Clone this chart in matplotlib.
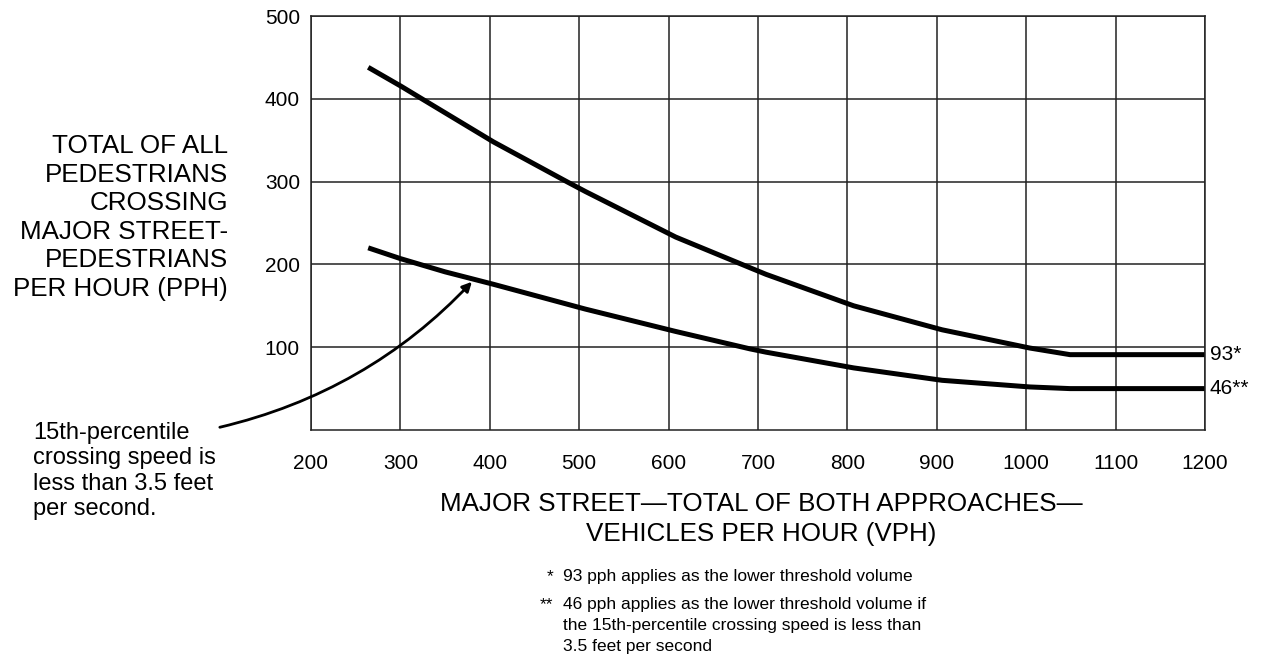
import matplotlib.pyplot as plt

plt.rcParams['font.family'] = ['Liberation Sans', 'DejaVu Sans']

# values
upper_x = [264, 301, 324, 404, 486, 507, 608, 691, 709, 807, 906, 1004, 1049, 1200]
upper_y = [438, 415, 400, 348, 300, 288, 233, 196, 188, 150, 121, 99, 91, 91]
lower_x = [264, 300, 350, 404, 507, 608, 691, 709, 807, 906, 1004, 1049, 1200]
lower_y = [220, 207, 191, 176, 146, 119, 98, 94, 75, 60, 52, 50, 50]
upper_tag = '93*'
lower_tag = '46**'

x_ticks = [200, 300, 400, 500, 600, 700, 800, 900, 1000, 1100, 1200]
y_ticks = [100, 200, 300, 400, 500]

W, H = 1281, 666
fig = plt.figure(figsize=(W / 100, H / 100), dpi=100)
ax = fig.add_axes([311 / W, 1 - 430 / H, (1205 - 311) / W, (430 - 16) / H])

ax.set_xlim(200, 1200)
ax.set_ylim(0, 500)
ax.set_xticks(x_ticks)
ax.set_yticks(y_ticks)
ax.grid(True, color='#222222', linewidth=1.1)
ax.set_axisbelow(True)
for s in ax.spines.values():
    s.set_color('#222222')
    s.set_linewidth(1.1)
ax.tick_params(length=0, labelsize=15)
ax.tick_params(axis='y', pad=8)
ax.tick_params(axis='x', pad=17)

ax.plot(upper_x, upper_y, color='black', linewidth=3.6, solid_capstyle='butt')
ax.plot(lower_x, lower_y, color='black', linewidth=3.6, solid_capstyle='butt')

# tags at the right end of both curves
ax.annotate(upper_tag, xy=(upper_x[-1], upper_y[-1]), xytext=(5, 0),
            textcoords='offset pixels', fontsize=15, va='center', ha='left',
            annotation_clip=False)
ax.annotate(lower_tag, xy=(lower_x[-1], lower_y[-1]), xytext=(5, 0),
            textcoords='offset pixels', fontsize=15, va='center', ha='left',
            annotation_clip=False)

# arrow pointing at the lower curve
ax.annotate('', xy=(380, 179), xytext=(98, 3.3),
            arrowprops=dict(arrowstyle='-|>', color='black', lw=2,
                            mutation_scale=14,
                            connectionstyle='arc3,rad=0.15',
                            shrinkA=0, shrinkB=0),
            annotation_clip=False)

def fx(px):
    return px / W

def fy(py):
    return 1 - py / H

fig.text(fx(228), fy(134),
         'TOTAL OF ALL\nPEDESTRIANS\nCROSSING\nMAJOR STREET-\nPEDESTRIANS\nPER HOUR (PPH)',
         ha='right', va='top', fontsize=18.7, linespacing=1.24, multialignment='right')

fig.text(fx(33), fy(422),
         '15th-percentile\ncrossing speed is\nless than 3.5 feet\nper second.',
         ha='left', va='top', fontsize=17, linespacing=1.2)

fig.text(fx(761), fy(492),
         'MAJOR STREET\u2014TOTAL OF BOTH APPROACHES\u2014\nVEHICLES PER HOUR (VPH)',
         ha='center', va='top', fontsize=18.7, linespacing=1.3)

# footnotes
fig.text(fx(553), fy(569), '*', ha='right', va='top', fontsize=12.5)
fig.text(fx(563), fy(569), '93 pph applies as the lower threshold volume',
         ha='left', va='top', fontsize=12.5)
fig.text(fx(553), fy(597), '**', ha='right', va='top', fontsize=12.5)
fig.text(fx(563), fy(597),
         '46 pph applies as the lower threshold volume if\n'
         'the 15th-percentile crossing speed is less than\n'
         '3.5 feet per second',
         ha='left', va='top', fontsize=12.5, linespacing=1.5)

fig.savefig('out.png', dpi=100)
